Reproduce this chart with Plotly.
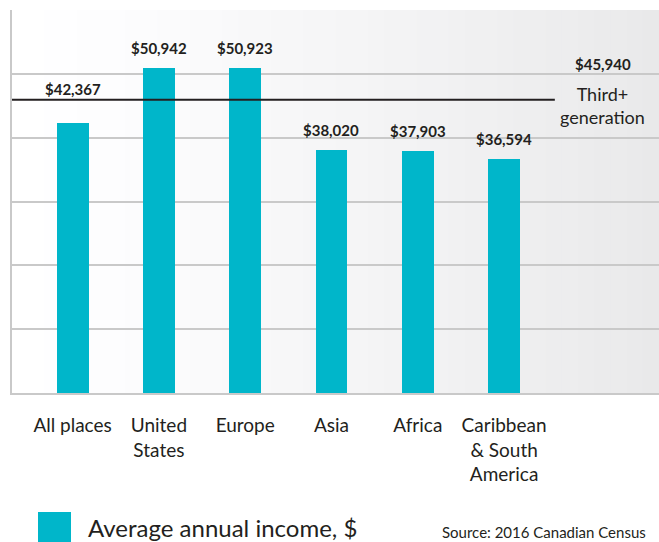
import plotly.graph_objects as go

# data
regions = ["All places", "United States", "Europe", "Asia", "Africa", "Caribbean & South America"]
tick_labels = ["All places", "United<br>States", "Europe", "Asia", "Africa", "Caribbean<br>&amp; South<br>America"]
income = [42367, 50942, 50923, 38020, 37903, 36594]
third_gen = 45940
third_gen_label = "Third+<br>generation"

TEAL = "#00b6ca"
INK = "#231f20"
GRID = "#c9c9c9"
FONT = "Lato"

fig = go.Figure()
fig.add_trace(go.Bar(
    x=regions, y=income, width=0.37,
    marker=dict(color=TEAL, line=dict(width=0)),
    name="Average annual income, $",
    showlegend=False,
    hoverinfo="skip",
))

# value labels over the bars (first one lifted to clear the line)
label_shift = [34, 20, 20, 20, 20, 20]
for r, v, s in zip(regions, income, label_shift):
    fig.add_annotation(x=r, y=v, text="<b>$%s</b>" % format(v, ","),
                       showarrow=False, xanchor="center", yanchor="middle", yshift=s,
                       font=dict(size=15, color=INK, family=FONT))

# third+ generation reference line
fig.add_shape(type="line", xref="paper", x0=0, x1=0.839, yref="y", y0=third_gen, y1=third_gen,
              line=dict(color=INK, width=2), layer="above")
fig.add_annotation(xref="paper", x=0.913, y=third_gen, text="<b>$%s</b>" % format(third_gen, ","),
                   showarrow=False, xanchor="center", yanchor="middle", yshift=36,
                   font=dict(size=15, color=INK, family=FONT))
fig.add_annotation(xref="paper", x=0.913, y=third_gen, text=third_gen_label,
                   showarrow=False, xanchor="center", yanchor="middle", yshift=-6,
                   font=dict(size=18, color=INK, family=FONT))

# light grey gradient behind the plot
n = 40
for i in range(n):
    t = (i + 0.5) / n
    c = int(round(255 - 22 * t ** 1.2))
    fig.add_shape(type="rect", xref="paper", yref="paper", x0=i / n, x1=(i + 1) / n + 0.002,
                  y0=0, y1=1, fillcolor="rgb(%d,%d,%d)" % (c, c, c + 1),
                  line=dict(width=0), layer="below")

# legend swatch + source
fig.add_shape(type="rect", xref="paper", yref="paper", x0=26 / 647, x1=59 / 647,
              y0=-119 / 383, y1=-151 / 383, fillcolor=TEAL, line=dict(width=0))
fig.add_annotation(xref="paper", yref="paper", x=74 / 647, y=-134 / 383,
                   text="Average annual income, $", showarrow=False,
                   xanchor="left", yanchor="middle",
                   font=dict(size=24, color=INK, family=FONT))
fig.add_annotation(xref="paper", yref="paper", x=636 / 647, y=-139 / 383,
                   text="Source: 2016 Canadian Census", showarrow=False,
                   xanchor="right", yanchor="middle",
                   font=dict(size=15, color=INK, family=FONT))

fig.update_layout(
    width=659, height=542,
    margin=dict(l=12, r=0, t=10, b=149),
    paper_bgcolor="white", plot_bgcolor="white",
    font=dict(family=FONT, color=INK),
    bargap=0,
)
fig.update_xaxes(
    type="category", range=[-0.702, 6.795],
    tickvals=regions, ticktext=tick_labels,
    tickfont=dict(size=19, color=INK, family=FONT),
    ticks="", ticklabelstandoff=14,
    showline=True, linecolor=GRID, linewidth=2,
    showgrid=False,
)
fig.update_yaxes(
    range=[0, 60000], dtick=10000,
    showticklabels=False, ticks="",
    showgrid=True, gridcolor=GRID, gridwidth=1.5,
    showline=True, linecolor=GRID, linewidth=2,
    zeroline=False,
)

fig.write_html("out.html", config={"displayModeBar": False},
               post_script="document.body.style.margin='0';")
